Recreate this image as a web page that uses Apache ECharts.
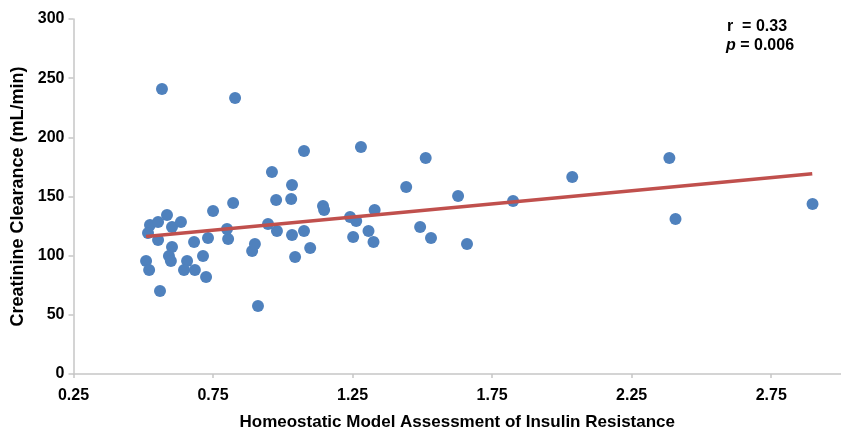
<!DOCTYPE html>
<html>
<head>
<meta charset="utf-8">
<script src="https://cdn.jsdelivr.net/npm/echarts@6/dist/echarts.min.js"></script>
<style>html,body{margin:0;padding:0;background:#fff}#c{width:841px;height:430px}</style>
</head>
<body>
<div id="c"></div>
<script>
var homaIR = [0.524,0.517,0.553,0.585,0.603,0.635,0.553,0.603,0.510,0.521,0.560,0.592,0.599,0.657,0.646,0.685,0.714,0.725,0.682,0.732,0.804,0.800,0.750,0.822,0.829,0.567,
  0.890,0.900,0.947,0.979,0.976,0.961,1.030,1.033,1.033,1.076,1.098,1.044,0.911,1.076,1.144,1.148,1.241,1.263,1.252,1.307,1.325,1.329,1.280,1.442,1.492,1.531,1.512,1.628,1.660,1.825,2.037,2.385,2.407,2.898];
var crcl = [125.9,119.1,128.4,134.4,124.2,128.4,113.2,107.3,95.5,87.9,70.1,99.7,95.5,95.5,87.9,87.9,99.7,82.0,111.5,114.9,114.1,122.5,137.7,144.5,233.3,240.8,
  103.9,109.8,126.8,120.8,147.0,170.7,147.9,159.7,117.5,120.8,106.5,98.9,57.4,188.5,142.0,138.6,132.7,129.3,115.8,120.8,111.5,138.6,191.8,158.0,124.2,114.9,182.5,150.4,109.8,146.2,166.5,182.5,131.0,143.7];
var trendX = [0.510, 2.897];
var trendY = [116.1, 169.3];
var xTicks = ['0.25','0.75','1.25','1.75','2.25','2.75'];
var yTicks = ['0','50','100','150','200','250','300'];

var pts = homaIR.map(function(x,i){return [x, crcl[i]];});
var line = trendX.map(function(x,i){return [x, trendY[i]];});

var chart = echarts.init(document.getElementById('c'));
var axisCol = '#C6C6C6';
var font = 'Liberation Sans, Arial, sans-serif';
chart.setOption({
  animation:false,
  grid:{left:73.5,right:0,top:19,bottom:56,containLabel:false,outerBoundsMode:'none'},
  xAxis:{
    type:'value', min:0.25, max:3.0, interval:0.5,
    name:'Homeostatic Model Assessment of Insulin Resistance',
    nameLocation:'middle', nameGap:40,
    nameTextStyle:{fontFamily:font,fontWeight:'bold',fontSize:17,color:'#000'},
    axisLine:{show:true,lineStyle:{color:axisCol,width:1.5}},
    axisTick:{show:true,length:4,lineStyle:{color:axisCol,width:1.5}},
    splitLine:{show:false},
    axisLabel:{fontFamily:font,fontWeight:'bold',fontSize:16,color:'#000',margin:14,showMaxLabel:false,
      formatter:function(v){var s=v.toFixed(2);return xTicks.indexOf(s)>=0?s:'';}}
  },
  yAxis:{
    type:'value', min:0, max:300, interval:50,
    name:'Creatinine Clearance (mL/min)',
    nameLocation:'middle', nameGap:37, nameRotate:90,
    nameTextStyle:{fontFamily:font,fontWeight:'bold',fontSize:18,color:'#000'},
    axisLine:{show:true,lineStyle:{color:axisCol,width:1.5}},
    axisTick:{show:true,length:5,lineStyle:{color:axisCol,width:1.5}},
    splitLine:{show:false},
    axisLabel:{fontFamily:font,fontWeight:'bold',fontSize:16,color:'#000',margin:9,
      formatter:function(v){var s=String(v);return yTicks.indexOf(s)>=0?s:'';}}
  },
  series:[
    {type:'scatter',data:pts,symbolSize:12,itemStyle:{color:'#4F81BD',opacity:1},z:2},
    {type:'line',data:line,symbol:'none',lineStyle:{color:'#C0504D',width:3.5},z:3}
  ],
  graphic:[
    {type:'text',x:727,y:27,style:{text:'{b|r  = 0.33}',verticalAlign:'middle',rich:{b:{fontFamily:font,fontWeight:'bold',fontSize:16,fill:'#000'}}}},
    {type:'text',x:726,y:46,style:{text:'{i|p}{b| = 0.006}',verticalAlign:'middle',rich:{i:{fontFamily:font,fontWeight:'bold',fontStyle:'italic',fontSize:16,fill:'#000'},b:{fontFamily:font,fontWeight:'bold',fontSize:16,fill:'#000'}}}}
  ]
});
</script>
</body>
</html>
